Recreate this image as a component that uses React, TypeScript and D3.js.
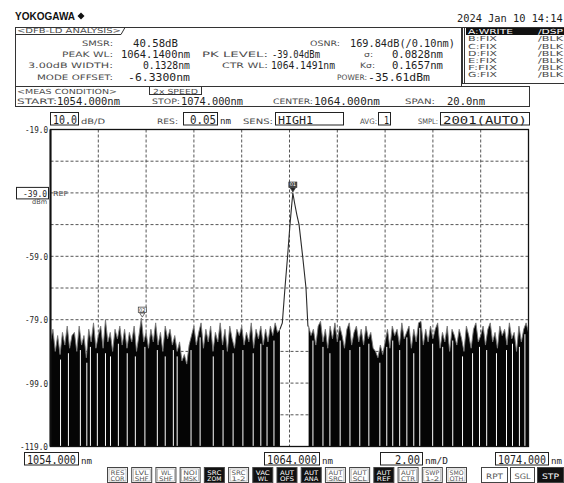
import React from 'react';
import * as d3 from 'd3';

// ---------- data ----------
const WL_START = 1054;
const WL_STOP = 1074;
const DB_TOP = -19;
const DB_BOTTOM = -119;
const xGridValues = [1056, 1058, 1060, 1062, 1064, 1066, 1068, 1070, 1072];
const yGridValues = [-29, -39, -49, -59, -69, -79, -89, -99, -109];
const yTickLabels = [-19, -59, -79, -99, -119];
const REF_LEVEL = -39;

// noise floor samples, 0.1 nm apart
const NOISE_STEP = 0.1;
const leftNoiseStart = 1054.0;
const leftNoise = [
  -86, -82, -89, -84, -90, -83, -87, -81, -88, -84,
  -83, -89, -81, -87, -84, -91, -82, -86, -80, -88,
  -84, -81, -88, -79, -86, -83, -89, -82, -85, -81,
  -87, -82, -88, -83, -86, -81, -89, -84, -78.5, -86,
  -83, -88, -82, -86, -80, -87, -83, -89, -81, -85,
  -82, -87, -84, -89, -86, -92, -90, -93, -87, -84,
  -81, -87, -83, -80, -88, -82, -86, -81, -89, -83,
  -86, -80, -87, -82, -89, -81, -85, -88, -82, -84,
  -81, -87, -83, -86, -80, -88, -82, -85, -81, -87,
  -82, -86, -81, -84, -80, -83, -82,
];
const rightNoiseStart = 1064.8;
const rightNoise = [
  -81, -84,
  -82, -87, -81, -79.5, -86, -82, -88, -81, -85, -80,
  -86, -81, -84, -88, -82, -80, -87, -83, -81, -86,
  -82, -87, -81, -85, -83, -88, -89, -91, -87, -90,
  -86, -82, -88, -81, -84, -82, -87, -80, -85, -83,
  -81, -88, -82, -86, -80, -79.5, -87, -82, -86, -81,
  -85, -82, -80, -88, -83, -86, -81, -89, -82, -84,
  -87, -82, -85, -89, -81, -84, -88, -82, -80, -86,
  -84, -81, -87, -82, -80, -86, -83, -88, -81, -84,
  -82, -87, -80, -85, -83, -89, -81, -86, -82, -80, -83,
];
// white drop-out gaps in the noise (nm)
const gapWl = [
  1054.42, 1054.75, 1055.25, 1055.52, 1055.67, 1055.96, 1056.30, 1056.51, 1056.84, 1057.21,
  1057.55, 1057.95, 1058.47, 1058.80, 1059.14, 1059.30, 1059.88, 1060.26, 1060.81, 1061.22,
  1061.64, 1062.05, 1062.48, 1062.80, 1063.06, 1063.35,
  1064.98, 1065.40, 1065.69, 1066.12, 1066.53, 1066.94, 1067.32, 1067.78, 1068.07,
  1068.32, 1068.61, 1068.91, 1069.20, 1069.45, 1069.99, 1070.41, 1070.83, 1071.24,
  1071.66, 1071.95, 1072.25, 1072.66, 1073.08, 1073.33, 1073.62, 1073.85,
];
// DFB peak
const peakWl = [1063.60, 1063.70, 1063.81, 1063.92, 1064.02, 1064.09, 1064.14, 1064.22, 1064.31, 1064.40, 1064.55, 1064.69, 1064.77, 1064.80];
const peakDb = [-82, -80, -69, -59, -49, -43, -39.04, -42.5, -46, -49, -59, -69, -81, -81];
const markerWl = [1064.14, 1057.84];
const markerDb = [-39.04, -78.5];
const markerNames = ['01', '02'];

const traceRows = ['A:WRITE', 'B:FIX', 'C:FIX', 'D:FIX', 'E:FIX', 'F:FIX', 'G:FIX'];
const traceMode = ['/DSP', '/BLK', '/BLK', '/BLK', '/BLK', '/BLK', '/BLK'];
const softTop = ['RES', 'LVL', 'WL', 'NOI', 'SRC', 'SRC', 'VAC', 'AUT', 'AUT', 'AUT', 'AUT', 'AUT', 'AUT', 'SWP', 'SMO'];
const softBottom = ['COR', 'SHF', 'SHF', 'MSK', 'ZOM', '1-2', 'WL', 'OFS', 'ANA', 'SRC', 'SCL', 'REF', 'CTR', '1-2', 'OTH'];
const softOn = [false, false, false, false, true, false, true, true, true, false, false, true, false, false, false];

// ---------- styling ----------
const LBL = "'DejaVu Sans', sans-serif";
const VAL = "'DejaVu Sans Mono', monospace";
const INK = '#1e1e1e';
const GREY = '#4a4a4a';
const MONO_ADV = 0.602;

type TP = { x: number; y: number; s: string; size?: number; w?: number; anchor?: string; fill?: string; font?: string; weight?: string | number };
const T = ({ x, y, s, size = 7.5, w, anchor = 'start', fill = GREY, font = LBL, weight }: TP) => (
  <text x={x} y={y} fontSize={size} fontFamily={font} fill={fill} textAnchor={anchor as any}
    fontWeight={weight as any}
    {...(w ? { textLength: w, lengthAdjust: 'spacingAndGlyphs' } : {})}>{s}</text>
);
// monospace value text, horizontally scaled to a target width
const V = ({ x, y, s, size = 10, w, anchor = 'start', fill = INK }: TP) => {
  const natural = MONO_ADV * size * s.length;
  const sx = w ? w / natural : 1;
  return (
    <text transform={`translate(${x},${y}) scale(${sx.toFixed(3)},1)`} fontSize={size} fontFamily={VAL}
      fill={fill} textAnchor={anchor as any}>{s}</text>
  );
};

export default function App() {
  const x = d3.scaleLinear().domain([WL_START, WL_STOP]).range([50.5, 528.5]);
  const y = d3.scaleLinear().domain([DB_BOTTOM, DB_TOP]).range([446.5, 129.5]);

  const left: [number, number][] = leftNoise.map((v, i) => [leftNoiseStart + i * NOISE_STEP, v]);
  const right: [number, number][] = rightNoise.map((v, i) => [rightNoiseStart + i * NOISE_STEP, v]);
  const peak: [number, number][] = peakWl.map((w, i) => [w, peakDb[i]]);
  const all = [...left, ...right];
  const bis = d3.bisector((d: [number, number]) => d[0]).left;
  const noiseAt = (w: number) => {
    const i = Math.min(all.length - 1, Math.max(0, bis(all, w)));
    return Math.min(all[i][1], all[Math.max(0, i - 1)][1]);
  };

  const area = d3.area<[number, number]>().x(d => x(d[0])).y0(y(DB_BOTTOM)).y1(d => y(d[1]));
  const line = d3.line<[number, number]>().x(d => x(d[0])).y(d => y(d[1]));

  const bx = d3.scaleLinear().domain([0, softTop.length - 1]).range([107, 446]);

  return (
    <svg width={564} height={483} style={{ position: 'absolute', left: 0, top: 0, background: '#fff' }}>
      {/* logo + date */}
      <T x={15} y={19.5} s="YOKOGAWA" size={10.5} w={60} font="'Liberation Sans', sans-serif" weight="bold" fill="#111" />
      <polygon points="81,12.5 84.5,16 81,19.5 77.5,16" fill="#111" />
      <V x={457} y={21.5} s="2024 Jan 10 14:14" size={10.5} w={106} />

      {/* analysis box */}
      <rect x={15.5} y={27.5} width={446} height={59} fill="none" stroke="#333" />
      <path d="M15.5,34.5 H121 L125,27.5" fill="none" stroke="#333" />
      <T x={17} y={33} s="<DFB-LD ANALYSIS>" w={104} size={7} />
      <T x={113} y={45.5} s="SMSR:" anchor="end" w={31} />
      <T x={113} y={57} s="PEAK WL:" anchor="end" w={51} />
      <T x={113} y={68} s="3.00dB WIDTH:" anchor="end" w={85} />
      <T x={113} y={79.5} s="MODE OFFSET:" anchor="end" w={76} />
      <V x={133} y={46.5} s="40.58dB" w={45} />
      <V x={121} y={58} s="1064.1400nm" w={69} />
      <V x={143} y={69} s="0.1328nm" w={47} />
      <V x={128} y={80.5} s="-6.3300nm" w={62} />
      <T x={202} y={57} s="PK LEVEL:" w={66} />
      <V x={272} y={58} s="-39.04dBm" w={48} />
      <T x={222} y={68} s="CTR WL:" w={46} />
      <V x={271} y={69} s="1064.1491nm" w={64} />
      <T x={310} y={45.5} s="OSNR:" w={30} />
      <V x={350} y={46.5} s="169.84dB(/0.10nm)" w={105} />
      <T x={364} y={57} s="σ:" w={9} />
      <V x={392} y={58} s="0.0828nm" w={51} />
      <T x={360} y={68} s="Kσ:" w={15} />
      <V x={392} y={69} s="0.1657nm" w={51} />
      <T x={337} y={79.5} s="POWER:" w={30} />
      <V x={368} y={80.5} s="-35.61dBm" w={62} />

      {/* trace list */}
      <line x1={462.5} y1={27} x2={462.5} y2={84} stroke="#333" />
      <line x1={464.5} y1={27} x2={464.5} y2={84} stroke="#333" />
      <line x1={462} y1={27.5} x2={564} y2={27.5} stroke="#333" />
      <line x1={462} y1={83.5} x2={564} y2={83.5} stroke="#333" />
      <rect x={466} y={28} width={98} height={7} fill="#111" />
      {traceRows.map((r, i) => (
        <g key={r}>
          <T x={468} y={34.3 + i * 7.1} s={r} size={7} w={i === 0 ? 45 : 29} fill={i === 0 ? '#fff' : GREY} />
          <T x={538} y={34.3 + i * 7.1} s={traceMode[i]} size={7} w={25} fill={i === 0 ? '#fff' : GREY} />
        </g>
      ))}

      {/* measurement condition */}
      <rect x={15.5} y={86.5} width={514} height={20} fill="none" stroke="#333" />
      <T x={17} y={93.5} s="<MEAS CONDITION>" w={100} size={7} />
      <rect x={149.5} y={86.5} width={52} height={8} fill="none" stroke="#333" />
      <T x={153} y={93.5} s="2x SPEED" w={45} size={7} />
      <T x={17} y={104} s="START:" w={40} />
      <V x={57} y={104.5} s="1054.000nm" w={63} size={10.5} />
      <T x={152} y={104} s="STOP:" w={28} />
      <V x={181} y={104.5} s="1074.000nm" w={62} size={10.5} />
      <T x={273} y={104} s="CENTER:" w={40} />
      <V x={314} y={104.5} s="1064.000nm" w={66} size={10.5} />
      <T x={405} y={104} s="SPAN:" w={30} />
      <V x={447} y={104.5} s="20.0nm" w={38} size={10.5} />

      {/* scale row */}
      <rect x={50.5} y={112.5} width={28} height={12.5} fill="none" stroke="#222" />
      <V x={53} y={123.5} s="10.0" w={24} size={12} />
      <T x={81} y={124} s="dB/D" w={24} />
      <T x={157} y={124} s="RES:" w={21} />
      <rect x={183.5} y={112.5} width={34} height={12.5} fill="none" stroke="#222" />
      <V x={190} y={123.5} s="0.05" w={26} size={12} />
      <V x={220} y={124} s="nm" w={11} size={9} />
      <T x={243} y={124} s="SENS:" w={30} />
      <rect x={275.5} y={112.5} width={68} height={12.5} fill="none" stroke="#222" />
      <V x={278} y={123.5} s="HIGH1" w={35} size={11} />
      <T x={360} y={124} s="AVG:" w={17} />
      <rect x={378.5} y={112.5} width={12} height={12.5} fill="none" stroke="#222" />
      <V x={384} y={123.5} s="1" w={5} size={11} />
      <T x={418} y={124} s="SMPL:" w={20} />
      <rect x={440.5} y={112.5} width={89} height={12.5} fill="none" stroke="#222" />
      <V x={443} y={123.5} s="2001(AUTO)" w={84} size={11} />

      {/* grid */}
      {yGridValues.map(v => (
        <line key={'h' + v} x1={x(WL_START)} x2={x(WL_STOP)} y1={y(v)} y2={y(v)} stroke="#555" strokeDasharray="3,2" />
      ))}
      {xGridValues.map(v => (
        <line key={'v' + v} x1={x(v)} x2={x(v)} y1={y(DB_TOP)} y2={y(DB_BOTTOM)} stroke="#555" strokeDasharray="3,2" />
      ))}

      {/* noise floor */}
      <path d={area(left) || ''} fill="#050505" />
      <path d={area(right) || ''} fill="#050505" />
      <path d={line(left) || ''} fill="none" stroke="#7a7a7a" strokeWidth={0.9} />
      <path d={line(right) || ''} fill="none" stroke="#7a7a7a" strokeWidth={0.9} />
      {gapWl.map(w => (
        <line key={'g' + w} x1={x(w)} x2={x(w)} y1={y(noiseAt(w)) + 5} y2={y(DB_BOTTOM) - 0.5} stroke="#fff" strokeWidth={1} />
      ))}
      {/* peak */}
      <path d={line(peak) || ''} fill="none" stroke="#2a2a2a" strokeWidth={1.1} />

      {/* markers */}
      {markerWl.map((w, i) => (
        <g key={'m' + i}>
          <rect x={x(w) - 4} y={y(markerDb[i]) - 11} width={8} height={5.5} fill={i === 0 ? '#444' : '#fff'} stroke="#333" strokeWidth={0.7} />
          <text x={x(w)} y={y(markerDb[i]) - 6.6} fontSize={5} fontFamily={LBL} textAnchor="middle" fill={i === 0 ? '#fff' : '#333'}>{markerNames[i]}</text>
          <path d={`M${x(w) - 2.5},${y(markerDb[i]) - 5} L${x(w) + 2.5},${y(markerDb[i]) - 5} L${x(w)},${y(markerDb[i]) - 1}Z`} fill={i === 0 ? '#222' : 'none'} stroke="#333" strokeWidth={0.7} />
        </g>
      ))}

      {/* frame */}
      <rect x={x(WL_START)} y={y(DB_TOP)} width={x(WL_STOP) - x(WL_START)} height={y(DB_BOTTOM) - y(DB_TOP)} fill="none" stroke="#111" strokeWidth={1.3} />
      <line x1={x(WL_START)} x2={x(WL_START)} y1={y(DB_TOP)} y2={y(DB_BOTTOM)} stroke="#111" strokeWidth={2} />

      {/* y labels */}
      {yTickLabels.map(v => (
        <V key={'yl' + v} x={48} y={y(v) + 3.5} s={v.toFixed(1)} anchor="end" size={9.5} w={v <= -100 ? 28 : 23} />
      ))}
      <rect x={16.5} y={y(REF_LEVEL) - 5.5} width={32} height={11.5} fill="none" stroke="#222" />
      <V x={47} y={y(REF_LEVEL) + 4} s={REF_LEVEL.toFixed(1)} anchor="end" size={9.5} w={24} />
      <T x={47} y={y(REF_LEVEL) + 11.5} s="dBm" anchor="end" size={6.5} w={15} />
      <T x={53} y={y(REF_LEVEL) + 3} s="REF" size={7} w={15} />

      {/* x labels */}
      <rect x={24.5} y={452.5} width={54} height={12.5} fill="none" stroke="#222" />
      <V x={27} y={463.5} s={WL_START.toFixed(3)} w={49} size={12} />
      <V x={81} y={463.5} s="nm" w={11} size={9} />
      <rect x={264.5} y={452.5} width={55} height={12.5} fill="none" stroke="#222" />
      <V x={267} y={463.5} s={((WL_START + WL_STOP) / 2).toFixed(3)} w={50} size={12} />
      <V x={322} y={463.5} s="nm" w={11} size={9} />
      <rect x={380.5} y={452.5} width={42} height={12.5} fill="none" stroke="#222" />
      <V x={420} y={463.5} s={((WL_STOP - WL_START) / 10).toFixed(2)} w={25} size={12} anchor="end" />
      <V x={425} y={463.5} s="nm/D" w={23} size={9} />
      <rect x={495.5} y={452.5} width={53} height={12.5} fill="none" stroke="#222" />
      <V x={498} y={463.5} s={WL_STOP.toFixed(3)} w={48} size={12} />
      <V x={551} y={463.5} s="nm" w={11} size={9} />

      {/* soft keys */}
      {softTop.map((t, i) => {
        const bx0 = bx(i);
        const on = softOn[i];
        return (
          <g key={'sk' + i}>
            <rect x={bx0 + 0.5} y={467.5} width={20} height={15} fill={on ? '#111' : '#fff'} stroke="#444" />
            {!on && <rect x={bx0 + 2} y={469} width={17} height={12} fill="none" stroke="#999" strokeWidth={0.6} />}
            <T x={bx0 + 10.5} y={474.5} s={t} size={6.3} anchor="middle" w={t.length > 2 ? 14 : 10} fill={on ? '#fff' : '#555'} />
            <T x={bx0 + 10.5} y={481} s={softBottom[i]} size={6.3} anchor="middle" w={softBottom[i].length > 2 ? 14 : 10} fill={on ? '#fff' : '#555'} />
          </g>
        );
      })}
      <rect x={481.5} y={467.5} width={26} height={15} fill="#fff" stroke="#444" />
      <T x={494.5} y={478.5} s="RPT" size={7.5} anchor="middle" w={17} fill="#555" />
      <rect x={510.5} y={467.5} width={24} height={15} fill="#fff" stroke="#444" />
      <T x={522.5} y={478.5} s="SGL" size={7.5} anchor="middle" w={16} fill="#555" />
      <rect x={537.5} y={467.5} width={26} height={15} fill="#111" stroke="#444" />
      <T x={550.5} y={478.5} s="STP" size={7.5} anchor="middle" w={17} fill="#fff" />
    </svg>
  );
}
